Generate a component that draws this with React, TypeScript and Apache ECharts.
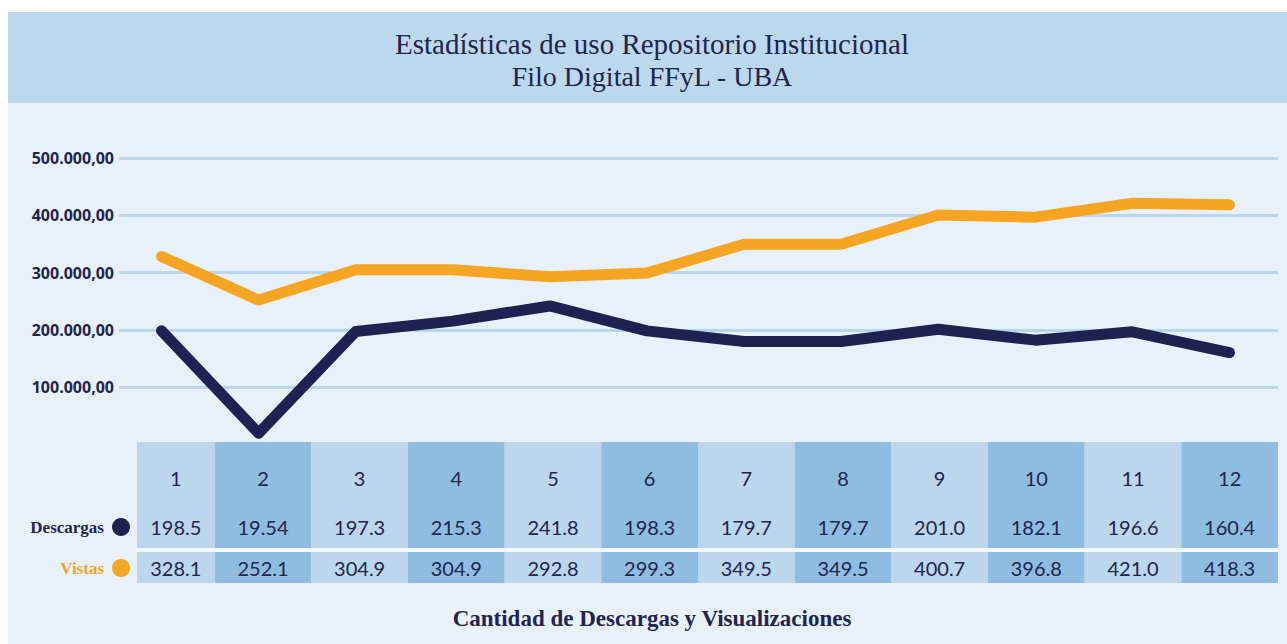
import React, { useEffect, useRef } from "react";
import * as echarts from "echarts";

const titleLines = ["Estadísticas de uso Repositorio Institucional", "Filo Digital FFyL - UBA"];
const footer = "Cantidad de Descargas y Visualizaciones";
const periods = ["1", "2", "3", "4", "5", "6", "7", "8", "9", "10", "11", "12"];
// values in thousands
const descargas = [198.5, 19.54, 197.3, 215.3, 241.8, 198.3, 179.7, 179.7, 201.0, 182.1, 196.6, 160.4];
const vistas = [328.1, 252.1, 304.9, 304.9, 292.8, 299.3, 349.5, 349.5, 400.7, 396.8, 421.0, 418.3];
const seriesNames = ["Descargas", "Vistas"];

const NAVY = "#22244f";
const LINE_NAVY = "#1f2152";
const ORANGE = "#f5a521";
const LIGHT_COL = "#bcd7ed";
const DARK_COL = "#8fbde2";
const PANEL = "#e8f1f9";
const BAND = "#bcd8ec";

const fmtTable = (v: number) => (v < 100 ? v.toFixed(2) : v.toFixed(1));
const fmtAxis = (v: number) =>
  Math.round(v).toString().replace(/\B(?=(\d{3})+(?!\d))/g, ".") + ",00";

export default function App() {
  const ref = useRef<HTMLDivElement>(null);
  useEffect(() => {
    if (!ref.current) return;
    const chart = echarts.init(ref.current, undefined, { renderer: "svg" });
    const tableTop = 442;
    const option: any = {
      animation: false,
      backgroundColor: "#ffffff",
      graphic: [
        { type: "rect", z: -10, shape: { x: 8, y: 12, width: 1279, height: 91 }, style: { fill: BAND } },
        { type: "rect", z: -10, shape: { x: 8, y: 103, width: 1279, height: 541 }, style: { fill: PANEL } },
        {
          type: "text",
          x: 652,
          y: 44,
          style: { text: titleLines[0], fill: NAVY, font: '29px "Liberation Serif"', textAlign: "center", textVerticalAlign: "middle" },
        },
        {
          type: "text",
          x: 652,
          y: 76,
          style: { text: titleLines[1], fill: NAVY, font: '28px "Liberation Serif"', textAlign: "center", textVerticalAlign: "middle" },
        },
        {
          type: "text",
          x: 104,
          y: 527,
          style: { text: seriesNames[0], fill: NAVY, font: 'bold 17px "Liberation Serif"', textAlign: "right", textVerticalAlign: "middle" },
        },
        { type: "circle", shape: { cx: 121, cy: 527, r: 9 }, style: { fill: LINE_NAVY } },
        {
          type: "text",
          x: 104,
          y: 568,
          style: { text: seriesNames[1], fill: ORANGE, font: 'bold 17px "Liberation Serif"', textAlign: "right", textVerticalAlign: "middle" },
        },
        { type: "circle", shape: { cx: 121, cy: 568, r: 9 }, style: { fill: ORANGE } },
        {
          type: "text",
          x: 652,
          y: 618,
          style: { text: footer, fill: NAVY, font: 'bold 23px "Liberation Serif"', textAlign: "center", textVerticalAlign: "middle" },
        },
      ],
      grid: [
        { left: 119, right: 9, top: 158, height: 286.5 },
        { left: 113, right: 9, top: 158, height: 286.5 },
        { left: 118, right: 9, top: tableTop, height: 141 },
      ],
      xAxis: [
        { type: "category", gridIndex: 0, data: periods, show: false },
        { type: "category", gridIndex: 1, data: periods, show: false, boundaryGap: true },
        { type: "category", gridIndex: 2, data: periods, show: false },
      ],
      yAxis: [
        {
          type: "value",
          gridIndex: 0,
          min: 0,
          max: 500000,
          interval: 100000,
          axisLine: { show: false },
          axisTick: { show: false },
          axisLabel: {
            showMinLabel: false,
            margin: 5,
            formatter: fmtAxis,
            color: NAVY,
            fontFamily: "Open Sans",
            fontWeight: "bold",
            fontSize: 16,
          },
          splitLine: { show: true, showMinLine: false, lineStyle: { color: "#bad6ec", width: 3 } },
        },
        { type: "value", gridIndex: 1, min: 0, max: 500000, show: false, splitLine: { show: false } },
        { type: "value", gridIndex: 2, min: 0, max: 141, inverse: true, show: false, splitLine: { show: false } },
      ],
      series: [
        {
          name: seriesNames[1],
          type: "line",
          xAxisIndex: 1,
          yAxisIndex: 1,
          data: vistas.map((v) => v * 1000),
          symbol: "none",
          lineStyle: { color: ORANGE, width: 11, cap: "round", join: "round" },
          z: 3,
        },
        {
          name: seriesNames[0],
          type: "line",
          xAxisIndex: 1,
          yAxisIndex: 1,
          data: descargas.map((v) => v * 1000),
          symbol: "none",
          lineStyle: { color: LINE_NAVY, width: 11, cap: "round", join: "round" },
          z: 4,
        },
        {
          type: "custom",
          xAxisIndex: 2,
          yAxisIndex: 2,
          z: 5,
          data: periods.map((p, i) => [i, descargas[i], vistas[i]]),
          renderItem: (params: any, api: any) => {
            const i = api.value(0);
            const c = api.coord([i, 0]);
            const w = api.size([1, 0])[0];
            let x0 = c[0] - w / 2;
            const x1 = c[0] + w / 2;
            if (x0 < 137) x0 = 137;
            const y = (v: number) => api.coord([i, v])[1];
            const fill = i % 2 === 0 ? LIGHT_COL : DARK_COL;
            const cx = (x0 + x1) / 2;
            const txt = (t: string, yy: number) => ({
              type: "text",
              style: {
                text: t,
                x: cx,
                y: yy,
                textAlign: "center",
                textVerticalAlign: "middle",
                fill: NAVY,
                fontSize: 20,
                fontFamily: "Lato",
              },
            });
            return {
              type: "group",
              children: [
                { type: "rect", shape: { x: x0, y: y(0), width: x1 - x0, height: y(106) - y(0) }, style: { fill } },
                { type: "rect", shape: { x: x0, y: y(106), width: x1 - x0, height: y(110) - y(106) }, style: { fill: "#f3f8fc" } },
                { type: "rect", shape: { x: x0, y: y(110), width: x1 - x0, height: y(141) - y(110) }, style: { fill } },
                txt(periods[i], y(36)),
                txt(fmtTable(api.value(1)), y(85)),
                txt(fmtTable(api.value(2)), y(126)),
              ],
            };
          },
        },
      ],
    };
    chart.setOption(option);
    return () => chart.dispose();
  }, []);
  return <div ref={ref} style={{ position: "fixed", left: 0, top: 0, width: 1287, height: 644 }} />;
}
